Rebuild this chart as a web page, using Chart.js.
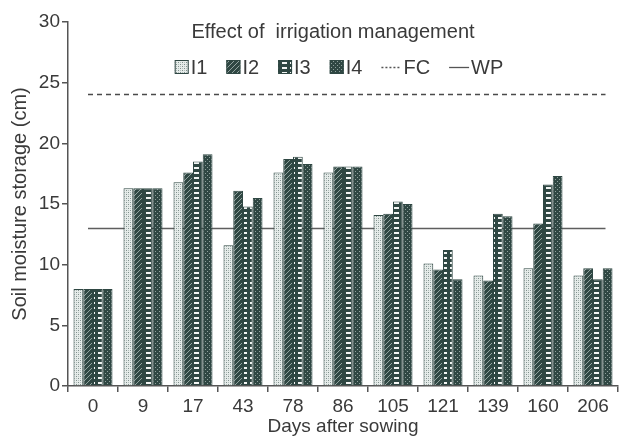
<!DOCTYPE html>
<html>
<head>
<meta charset="utf-8">
<script src="https://cdn.jsdelivr.net/npm/chart.js@4.4.1/dist/chart.umd.min.js"></script>
<style>
  html, body { margin: 0; padding: 0; background: #ffffff; }
  #wrap { width: 624px; height: 438px; position: relative; }
</style>
</head>
<body>
<div id="wrap"><canvas id="chart" width="624" height="438"></canvas></div>
<script>
// Days after sowing (x categories)
const days = ['0', '9', '17', '43', '78', '86', '105', '121', '139', '160', '206'];

// Soil moisture storage (cm) for each irrigation treatment
const I1 = [8.0, 16.3, 16.8, 11.6, 17.6, 17.6, 14.1, 10.1, 9.1, 9.7, 9.1];
const I2 = [8.0, 16.3, 17.6, 16.1, 18.7, 18.1, 14.2, 9.6, 8.7, 13.4, 9.7];
const I3 = [8.0, 16.3, 18.5, 14.8, 18.9, 18.1, 15.2, 11.2, 14.2, 16.6, 8.8];
const I4 = [8.0, 16.3, 19.1, 15.5, 18.3, 18.1, 15.0, 8.8, 14.0, 17.3, 9.7];

// Field capacity and wilting point levels (cm), and the day-index span they cover
const fcLevel = 24.1;
const wpLevel = 13.0;
const refSpan = [-0.1, 10.25];

const yTicks = [0, 5, 10, 15, 20, 25, 30];
const chartTitle = 'Effect of  irrigation management';
const seriesNames = ['I1', 'I2', 'I3', 'I4', 'FC', 'WP'];

const INK = '#2f4743';
const TEXT = '#3a3a3a';
const FONT = '"Liberation Sans", Arial, sans-serif';
const FC_STYLE = { color: '#4a4a4a', width: 1.3, dash: [5, 4] };
const WP_STYLE = { color: '#5e5e5e', width: 1.5, dash: [] };

// Hatch fills for the four treatments
function makePattern(kind) {
  const c = document.createElement('canvas');
  const g = c.getContext('2d');
  if (kind === 'dots-light') {
    c.width = 4; c.height = 4;
    g.fillStyle = '#e6ecea'; g.fillRect(0, 0, 4, 4);
    g.fillStyle = '#7f8f8c';
    g.fillRect(0, 0, 1, 1); g.fillRect(2, 2, 1, 1);
    g.fillStyle = '#b3bfbc';
    g.fillRect(2, 0, 1, 1); g.fillRect(0, 2, 1, 1);
  } else if (kind === 'diagonal') {
    c.width = 5; c.height = 5;
    g.fillStyle = INK; g.fillRect(0, 0, 5, 5);
    g.strokeStyle = '#93a4a0'; g.lineWidth = 1;
    g.beginPath();
    g.moveTo(-1, 6); g.lineTo(6, -1);
    g.moveTo(-1, 1); g.lineTo(1, -1);
    g.moveTo(4, 6); g.lineTo(6, 4);
    g.stroke();
  } else if (kind === 'ladder') {
    c.width = 8; c.height = 5;
    g.fillStyle = INK; g.fillRect(0, 0, 8, 5);
    g.fillStyle = '#f2f5f4';
    g.fillRect(2, 2, 5, 2);
  } else {
    c.width = 4; c.height = 4;
    g.fillStyle = INK; g.fillRect(0, 0, 4, 4);
    g.fillStyle = '#8fa09c';
    g.fillRect(1, 1, 1, 1); g.fillRect(3, 3, 1, 1);
  }
  return g.createPattern(c, 'repeat');
}

const fills = [
  makePattern('dots-light'),
  makePattern('diagonal'),
  makePattern('ladder'),
  makePattern('checker')
];

function barSet(label, data, fill) {
  return {
    label: label,
    data: data,
    backgroundColor: fill,
    borderColor: INK,
    borderWidth: 1,
    borderSkipped: 'bottom',
    categoryPercentage: 0.78,
    barPercentage: 1.0
  };
}

// FC and WP reference levels, placed through the x and y scales, behind the bars
const levelLines = {
  id: 'levelLines',
  beforeDatasetsDraw(chart) {
    const { ctx, scales: { x, y } } = chart;
    const x0 = x.getPixelForValue(refSpan[0]);
    const x1 = x.getPixelForValue(refSpan[1]);
    [[fcLevel, FC_STYLE], [wpLevel, WP_STYLE]].forEach(([level, st]) => {
      const py = Math.round(y.getPixelForValue(level)) + 0.5;
      ctx.save();
      ctx.strokeStyle = st.color;
      ctx.lineWidth = st.width;
      ctx.setLineDash(st.dash);
      ctx.beginPath();
      ctx.moveTo(x0, py);
      ctx.lineTo(x1, py);
      ctx.stroke();
      ctx.restore();
    });
  }
};

// Title and legend drawn inside the plot area
const innerLegend = {
  id: 'innerLegend',
  afterDraw(chart) {
    const ctx = chart.ctx;
    const area = chart.chartArea;
    const cx = (area.left + area.right) / 2;
    ctx.save();
    ctx.fillStyle = TEXT;
    ctx.font = '20px ' + FONT;
    ctx.textAlign = 'center';
    ctx.textBaseline = 'middle';
    ctx.fillText(chartTitle, cx - 10, 32);

    ctx.font = '20px ' + FONT;
    ctx.textAlign = 'left';
    const box = 14, gapAfterBox = 2, itemGap = 19, lineLen = 20;
    const items = seriesNames.map((name, i) => {
      const sw = i < 4 ? box : lineLen;
      return { name, i, sw, w: sw + gapAfterBox + ctx.measureText(name).width };
    });
    const total = items.reduce((s, it) => s + it.w, 0) + itemGap * (items.length - 1);
    let x = cx - total / 2 - 4;
    const y = 67;
    items.forEach(it => {
      if (it.i < 4) {
        ctx.fillStyle = fills[it.i];
        ctx.fillRect(x, y - box / 2, box, box);
        ctx.strokeStyle = INK;
        ctx.lineWidth = 1;
        ctx.strokeRect(x + 0.5, y - box / 2 + 0.5, box - 1, box - 1);
      } else {
        ctx.strokeStyle = '#555';
        ctx.lineWidth = 1.3;
        ctx.setLineDash(it.i === 4 ? [2, 2] : []);
        ctx.beginPath();
        ctx.moveTo(x, y + 0.5);
        ctx.lineTo(x + it.sw, y + 0.5);
        ctx.stroke();
        ctx.setLineDash([]);
      }
      ctx.fillStyle = TEXT;
      ctx.fillText(it.name, x + it.sw + gapAfterBox, y + 1);
      x += it.w + itemGap;
    });
    ctx.restore();
  }
};

new Chart(document.getElementById('chart'), {
  type: 'bar',
  data: {
    labels: days,
    datasets: [
      barSet('I1', I1, fills[0]),
      barSet('I2', I2, fills[1]),
      barSet('I3', I3, fills[2]),
      barSet('I4', I4, fills[3])
    ]
  },
  options: {
    responsive: false,
    animation: false,
    devicePixelRatio: 1,
    layout: { padding: { top: 22, right: 6, left: 0, bottom: 0 } },
    plugins: {
      legend: { display: false },
      title: { display: false },
      tooltip: { enabled: false }
    },
    scales: {
      x: {
        offset: true,
        border: { display: true, color: '#555', width: 1.5 },
        grid: { display: true, offset: true, drawOnChartArea: false, drawTicks: true, tickLength: 6, color: '#555', lineWidth: 1.5 },
        ticks: { color: TEXT, font: { size: 19, family: FONT }, padding: 3, maxRotation: 0, autoSkip: false },
        title: { display: true, text: 'Days after sowing', color: TEXT, font: { size: 19, family: FONT }, padding: { top: 0, bottom: 0 } },
        afterFit(axis) { axis.height = 52; }
      },
      y: {
        min: 0,
        max: 30,
        afterBuildTicks(axis) { axis.ticks = yTicks.map(v => ({ value: v })); },
        border: { display: true, color: '#555', width: 1.5 },
        grid: { display: true, drawOnChartArea: false, drawTicks: true, tickLength: 6, color: '#555', lineWidth: 1.5 },
        ticks: { color: TEXT, font: { size: 19, family: FONT }, padding: 2 },
        title: { display: true, text: 'Soil moisture storage (cm)', color: TEXT, font: { size: 20, family: FONT }, padding: { top: 8, bottom: 0 } },
        afterFit(axis) { axis.width = 68; }
      }
    }
  },
  plugins: [levelLines, innerLegend]
});
</script>
</body>
</html>
